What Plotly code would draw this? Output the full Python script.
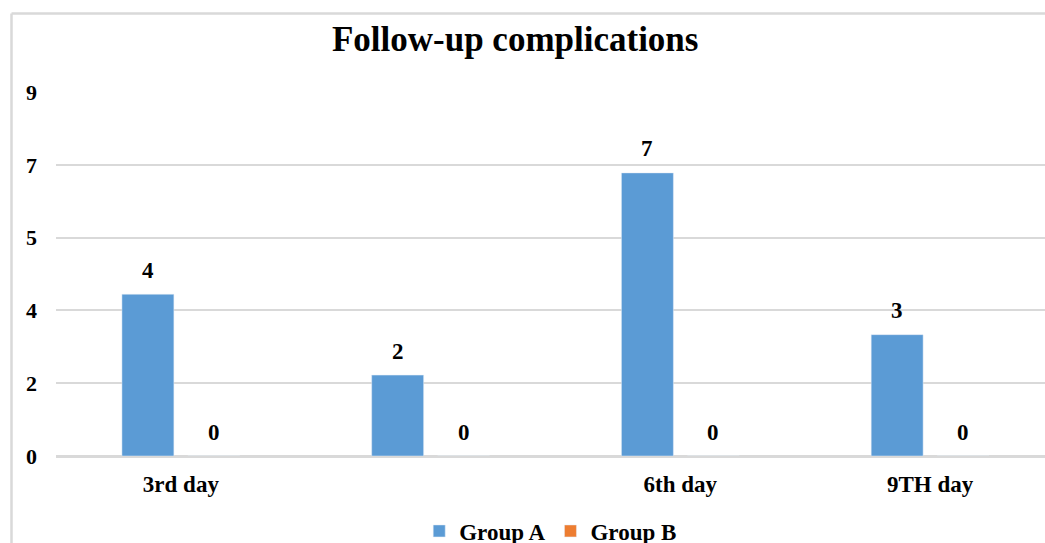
import plotly.graph_objects as go

# Follow-up complications by day
categories = ["3rd day", "", "6th day", "9TH day"]
group_a = [4, 2, 7, 3]
group_b = [0, 0, 0, 0]
y_tick_vals = [0, 1.8, 3.6, 5.4, 7.2, 9]
y_tick_text = ["0", "2", "4", "5", "7", "9"]

BLUE = "#5B9BD5"
ORANGE = "#ED7D31"
GRID = "#D9D9D9"
FONT = "Liberation Serif"

W, H = 1045, 543
L, R, T, B = 56, 0, 92, 87

bar_w = 0.208
half_gap = 0.132
xs = list(range(len(categories)))

fig = go.Figure()
fig.add_trace(go.Bar(
    x=xs, y=group_a, name="Group A", marker_color=BLUE,
    width=bar_w, offset=-half_gap - bar_w / 2,
))
fig.add_trace(go.Bar(
    x=xs, y=group_b, name="Group B", marker_color=ORANGE,
    width=bar_w, offset=half_gap - bar_w / 2,
))

# value labels above each bar
annotations = []
for series, shift in ((group_a, -half_gap), (group_b, half_gap)):
    for i, v in enumerate(series):
        annotations.append(dict(
            x=i + shift, y=v, xref="x", yref="y", text=f"<b>{v}</b>",
            showarrow=False, yanchor="middle", yshift=24,
            font=dict(family=FONT, size=23, color="#000"),
        ))

pw = W - L - R
ph = H - T - B
fig.update_layout(
    width=W, height=H,
    margin=dict(l=L, r=R, t=T, b=B),
    plot_bgcolor="white", paper_bgcolor="white",
    barmode="overlay",
    title=dict(
        text="<b>Follow-up complications</b>",
        x=0.493, xref="container", xanchor="center",
        y=1 - 39 / H, yref="container", yanchor="middle",
        font=dict(family=FONT, size=35, color="#000"),
    ),
    xaxis=dict(
        range=[-0.5, 3.46], tickvals=xs, ticktext=[f"<b>{c}</b>" if c else "" for c in categories],
        showgrid=False, zeroline=False, showline=False, ticks="",
        tickfont=dict(family=FONT, size=23, color="#000"),
        ticklabelstandoff=12,
    ),
    yaxis=dict(
        range=[0, 9], tickvals=y_tick_vals, ticktext=[f"<b>{t}</b>" for t in y_tick_text],
        showgrid=True, gridcolor=GRID, gridwidth=2,
        zeroline=True, zerolinecolor=GRID, zerolinewidth=3,
        showline=False, ticks="",
        tickfont=dict(family=FONT, size=22, color="#000"),
        ticklabelstandoff=18,
    ),
    legend=dict(
        orientation="h", xref="container", yref="container",
        x=0.527, xanchor="center", y=1 - 531 / H, yanchor="middle",
        font=dict(family=FONT, size=23, color="#000"),
        itemwidth=30, traceorder="normal",
    ),
    annotations=annotations,
    showlegend=True,
)

# light frame around the chart area (top and left edges)
fx = (11.5 - L) / pw
fy = 1 + (T - 13.5) / ph
fig.add_shape(type="line", xref="paper", yref="paper", x0=fx, x1=1.02, y0=fy, y1=fy,
              line=dict(color=GRID, width=2.5))
fig.add_shape(type="line", xref="paper", yref="paper", x0=fx, x1=fx, y0=fy, y1=-0.5,
              line=dict(color=GRID, width=2.5))

fig.for_each_trace(lambda t: t.update(name=f"<b>{t.name}</b>"))
fig.write_html("out.html")
